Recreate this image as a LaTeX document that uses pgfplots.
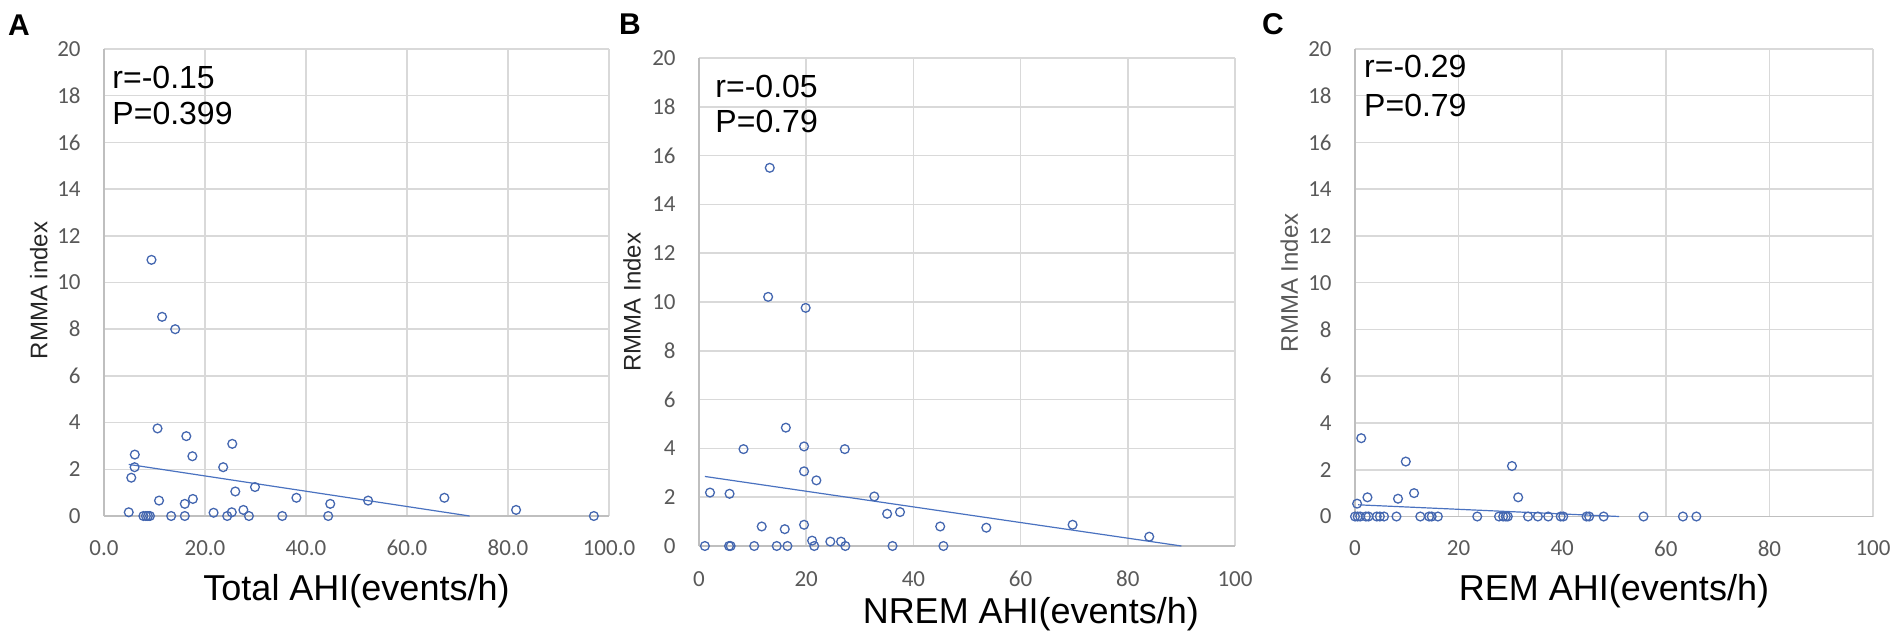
\documentclass[border=0pt]{standalone}
\usepackage{pgfplots}
\pgfplotsset{compat=1.18}
\usepackage{fontspec}
\setmainfont{Liberation Sans}
\newfontfamily\carlito{Carlito}
\definecolor{mk}{HTML}{4467B0}
\definecolor{tl}{HTML}{4A72C0}
\definecolor{gridc}{HTML}{D9D9D9}
\definecolor{axc}{HTML}{BFBFBF}
\definecolor{tk}{HTML}{595959}

\pgfplotstableread{
x y
4.9 0.16
5.4 1.64
6.06 2.09
6.1 2.63
7.8 0
8.3 0
8.7 0
9.1 0
9.4 10.97
10.6 3.75
10.9 0.66
11.5 8.53
13.3 0
14.1 8.0
16.0 0
16.0 0.52
16.3 3.42
17.5 2.56
17.6 0.73
21.7 0.14
23.6 2.09
24.4 0
25.3 0.16
25.4 3.09
26.0 1.05
27.6 0.26
28.7 0
29.9 1.24
35.3 0
38.1 0.78
44.4 0
44.8 0.52
52.3 0.66
67.4 0.78
81.6 0.26
97.0 0
}\dataA

\pgfplotstableread{
x y
1.1 0
2.05 2.19
5.6 0
5.9 0
5.7 2.14
8.3 3.97
10.3 0
11.7 0.80
12.9 10.21
13.2 15.5
14.5 0
16.0 0.69
16.2 4.85
16.5 0
19.6 4.08
19.6 3.06
19.6 0.87
19.9 9.76
21.1 0.22
21.5 0
21.9 2.69
24.5 0.18
26.5 0.18
27.2 3.97
27.3 0
32.7 2.03
35.1 1.32
36.1 0
37.5 1.39
45.0 0.80
45.6 0
53.6 0.75
69.7 0.87
84.0 0.38
}\dataB

\pgfplotstableread{
x y
0 0
0.4 0.55
1.2 3.35
0.5 0
1.0 0
2.1 0
2.6 0
2.4 0.82
4.2 0
4.8 0
5.6 0
8.0 0
8.3 0.76
9.8 2.35
11.4 1.0
12.6 0
14.3 0
14.8 0
16.0 0
23.6 0
27.8 0
28.6 0
29.1 0
29.5 0
30.3 2.16
31.5 0.82
33.4 0
35.3 0
37.3 0
39.7 0
40.2 0
44.7 0
45.2 0
48.0 0
55.7 0
63.3 0
65.9 0
}\dataC

\tikzset{ann/.style={anchor=west, font=\fontsize{16}{18}\selectfont, inner sep=0pt},
  letter/.style={font=\bfseries\fontsize{15}{17}\selectfont, inner sep=0pt}}

\pgfplotsset{
  panel/.style={
    scale only axis, anchor=south west, clip=false,
    xmin=0, xmax=100, ymin=0, ymax=20,
    xtick={0,20,...,100}, ytick={0,2,...,20},
    axis x line*=bottom, axis y line*=left,
    axis line style={draw=axc, line width=0.7pt, -},
    grid=major, grid style={draw=gridc, line width=0.75pt},
    major tick length=0pt,
    /pgf/number format/assume math mode=true,
    tick label style={font=\carlito\fontsize{11.5}{13}\selectfont, text=tk, inner sep=0pt},
    xticklabel style={anchor=center, yshift=-16pt},
    yticklabel style={anchor=east, xshift=-11.5pt},
  },
  xl/.style 2 args={every axis x label/.style={at={(axis description cs:#1,#2)}, anchor=center, font=\fontsize{18}{20}\selectfont, text=black}},
  yl/.style n args={3}{every axis y label/.style={at={(axis description cs:#1,#2)}, anchor=center, rotate=90, font=\fontsize{12}{14}\selectfont, text=#3}},
  pts/.style={only marks, mark=o, mark size=2.2pt, mark options={draw=mk, line width=0.65pt}},
  trend/.style={draw=tl, line width=0.6pt, no marks},
}

\begin{document}
\begin{tikzpicture}[x=1pt,y=1pt]
\useasboundingbox (0,0) rectangle (952,318.5);

% Panel A
\begin{axis}[panel, at={(52pt,60.5pt)}, width=252.5pt, height=233.5pt,
  xticklabel={\pgfmathprintnumber[fixed, fixed zerofill, precision=1]{\tick}},
  xlabel={Total AHI(events/h)}, ylabel={RMMA index},
  xl={0.5}{-0.16}, yl={-0.129}{0.483}{black!85},
]
\addplot[pts] table[x=x,y=y] {\dataA};
\addplot[trend] coordinates {(4.9,2.21) (72.4,0)};
\node[ann] at (axis description cs:0.016,0.938) {r=-0.15};
\node[ann] at (axis description cs:0.016,0.861) {P=0.399};
\end{axis}

% Panel B
\begin{axis}[panel, at={(349.5pt,45.5pt)}, width=268pt, height=244pt,
  xlabel={NREM AHI(events/h)}, ylabel={RMMA Index},
  xl={0.619}{-0.139}, yl={-0.125}{0.5}{black!85},
  xticklabel style={yshift=-0.5pt},
]
\addplot[pts] table[x=x,y=y] {\dataB};
\addplot[trend] coordinates {(1.1,2.85) (90.0,0)};
\node[ann] at (axis description cs:0.030,0.941) {r=-0.05};
\node[ann] at (axis description cs:0.030,0.869) {P=0.79};
\end{axis}

% Panel C
\begin{axis}[panel, at={(677.5pt,60.25pt)}, width=259pt, height=233.75pt,
  xlabel={REM AHI(events/h)}, ylabel={RMMA Index},
  xl={0.5}{-0.16}, yl={-0.127}{0.5}{tk},
]
\addplot[pts] table[x=x,y=y] {\dataC};
\addplot[trend] coordinates {(0.6,0.5) (51,0)};
\node[ann] at (axis description cs:0.017,0.962) {r=-0.29};
\node[ann] at (axis description cs:0.017,0.880) {P=0.79};
\end{axis}

\node[letter] at (9.5,306) {A};
\node[letter] at (315,306.3) {B};
\node[letter] at (636.5,306.3) {C};
\end{tikzpicture}
\end{document}
